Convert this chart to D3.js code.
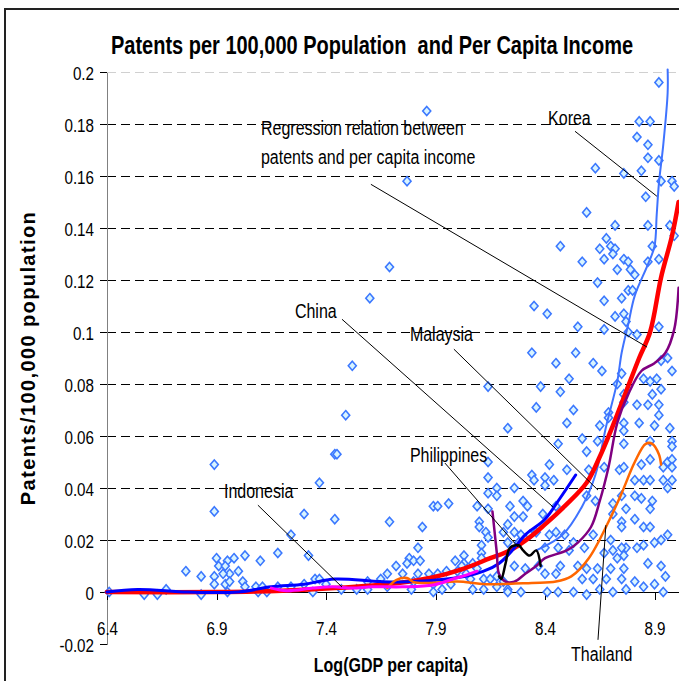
<!DOCTYPE html>
<html lang="en">
<head>
<meta charset="UTF-8">
<title>Patents per 100,000 Population and Per Capita Income</title>
<script src="https://cdn.jsdelivr.net/npm/d3@7"></script>
<style>
  body { margin: 0; background: #fff; }
  svg { display: block; font-family: "Liberation Sans", Arial, sans-serif; }
  .grid line { stroke-dasharray: 9,5; shape-rendering: crispEdges; }
  .axis path, .axis line { shape-rendering: crispEdges; }
  .leader { stroke: #000; stroke-width: 1; }
  .note { font-size: 20px; fill: #000; }
  .series { fill: none; stroke-linejoin: round; stroke-linecap: round; }
</style>
</head>
<body>
<svg id="chart" width="679" height="681"></svg>
<script>
// axis ticks
const yTicks = [-0.02, 0, 0.02, 0.04, 0.06, 0.08, 0.1, 0.12, 0.14, 0.16, 0.18, 0.2];
const xTicks = [6.4, 6.9, 7.4, 7.9, 8.4, 8.9];

// country observations: [log GDP per capita, patents per 100,000]
const patentPoints = [
  [6.89,0.049],[6.89,0.031],[7.37,0.042],[7.30,0.030],[7.44,0.053],[7.44,0.028],[7.24,0.022],[7.18,0.015],
  [7.32,0.014],[7.03,0.014],[7.10,0.012],[6.98,0.013],[6.90,0.013],[6.76,0.008],[6.83,0.006],[6.91,0.010],
  [6.95,0.012],[6.94,0.010],[6.96,0.007],[7.00,0.008],[6.93,0.007],[6.89,0.006],[6.89,0.003],[6.94,0.003],
  [6.96,0.004],[7.02,0.004],[7.03,0.002],[7.08,0.002],[7.11,0.002],[7.18,0.002],[7.24,0.002],[7.30,0.003],
  [7.35,0.005],[7.37,0.005],[7.40,0.003],[6.41,0.000],[6.57,-0.001],[6.63,-0.001],[6.67,0.001],[6.83,-0.001],
  [6.95,0.000],[7.09,0.000],[7.13,0.000],[7.34,0.000],
  [8.14,0.079],[7.49,0.068],[8.23,0.063],[7.45,0.053],[8.14,0.050],[8.14,0.044],[8.14,0.038],[8.18,0.040],
  [8.18,0.037],[7.89,0.033],[7.91,0.033],[7.96,0.034],[8.09,0.033],[8.14,0.032],[7.69,0.027],[7.84,0.025],
  [8.10,0.027],[8.10,0.025],[8.13,0.023],[8.14,0.021],[8.21,0.023],[8.23,0.019],[7.82,0.017],[8.11,0.018],
  [8.11,0.015],[8.11,0.013],[7.78,0.013],[7.77,0.011],[7.80,0.012],[7.83,0.012],[7.72,0.010],[7.99,0.012],
  [8.03,0.014],[8.03,0.011],[8.07,0.011],[8.09,0.009],[7.68,0.007],[7.75,0.007],[7.82,0.007],[7.87,0.007],
  [7.91,0.007],[7.95,0.008],[8.00,0.008],[8.02,0.010],[8.04,0.007],[7.59,0.004],[7.65,0.005],[7.80,0.004],
  [7.89,0.003],[7.97,0.003],[8.06,0.005],[8.12,0.005],[8.15,0.005],[8.18,0.006],[8.21,0.004],[7.47,0.001],
  [7.54,0.001],[7.59,0.001],[7.68,0.002],[7.79,0.001],[7.89,0.000],[7.93,0.001],[8.07,0.001],[8.12,0.001],
  [8.18,0.002],[8.23,0.001],
  [8.34,0.092],[8.54,0.092],[8.45,0.088],[8.62,0.088],[8.66,0.085],[8.75,0.084],[8.51,0.082],[8.38,0.079],
  [8.47,0.077],[8.85,0.082],[8.88,0.081],[8.91,0.082],[8.93,0.078],[8.89,0.076],[8.87,0.072],[8.82,0.072],
  [8.76,0.076],[8.76,0.073],[8.73,0.080],[8.92,0.072],[8.92,0.068],[8.90,0.064],[8.97,0.063],[8.98,0.085],
  [8.96,0.090],[8.93,0.089],[8.36,0.071],[8.53,0.070],[8.50,0.065],[8.69,0.069],[8.69,0.067],[8.65,0.064],
  [8.76,0.065],[8.76,0.062],[8.83,0.065],[8.57,0.059],[8.64,0.058],[8.76,0.057],[8.88,0.058],[8.98,0.058],
  [8.98,0.056],[8.46,0.057],[8.59,0.054],[8.42,0.049],[8.50,0.047],[8.60,0.047],[8.67,0.048],[8.74,0.047],
  [8.76,0.048],[8.84,0.049],[8.88,0.051],[8.94,0.048],[8.96,0.050],[8.98,0.051],[8.98,0.048],[8.94,0.043],
  [8.98,0.043],[8.96,0.040],[8.85,0.043],[8.88,0.043],[8.81,0.043],[8.40,0.044],[8.44,0.043],[8.34,0.045],
  [8.35,0.043],[8.40,0.041],[8.26,0.040],[8.24,0.033],[8.30,0.035],[8.32,0.033],[8.26,0.029],[8.30,0.029],
  [8.23,0.026],[8.39,0.030],[8.45,0.033],[8.59,0.037],[8.63,0.035],[8.71,0.034],[8.75,0.037],[8.81,0.037],
  [8.84,0.036],[8.88,0.032],[8.89,0.035],[8.77,0.032],[8.71,0.030],[8.75,0.027],[8.75,0.025],[8.81,0.028],
  [8.85,0.025],[8.88,0.025],[8.96,0.022],[8.93,0.020],[8.90,0.019],[8.85,0.018],[8.82,0.017],[8.77,0.017],
  [8.75,0.017],[8.71,0.016],[8.70,0.020],[8.62,0.022],[8.49,0.022],[8.45,0.023],[8.42,0.022],[8.36,0.023],
  [8.33,0.022],[8.29,0.022],[8.26,0.023],[8.28,0.019],[8.40,0.017],[8.46,0.017],[8.51,0.016],[8.58,0.017],
  [8.53,0.019],[8.67,0.015],[8.73,0.013],[8.76,0.014],[8.87,0.011],[8.93,0.010],[8.47,0.010],[8.55,0.010],
  [8.59,0.009],[8.64,0.009],[8.70,0.009],[8.76,0.009],[8.40,0.007],[8.45,0.007],[8.37,0.010],[8.31,0.009],
  [8.26,0.010],[8.57,0.005],[8.62,0.005],[8.68,0.005],[8.75,0.005],[8.81,0.004],[8.90,0.003],[8.95,0.006],
  [8.94,0.000],[8.85,0.002],[8.77,0.001],[8.71,0.000],[8.65,0.001],[8.59,-0.001],[8.53,0.000],[8.46,0.000],
  [8.41,0.000],[8.29,0.000],[8.23,0.000],
  [8.92,0.196],[7.86,0.185],[8.83,0.181],[8.88,0.181],[8.82,0.175],[8.87,0.172],[8.87,0.167],[8.92,0.166],
  [8.63,0.163],[8.76,0.161],[8.84,0.162],[8.93,0.158],[8.98,0.158],[8.99,0.156],[7.77,0.158],[8.86,0.152],
  [8.59,0.146],[8.72,0.141],[8.87,0.141],[8.97,0.141],[8.99,0.137],[8.68,0.136],[8.70,0.133],[8.72,0.132],
  [8.65,0.132],[8.71,0.130],[8.47,0.133],[8.67,0.128],[8.76,0.128],[8.78,0.127],[8.89,0.133],[8.87,0.127],
  [8.92,0.128],[8.57,0.127],[8.73,0.124],[8.79,0.124],[8.81,0.122],[7.69,0.125],[8.64,0.119],[8.78,0.116],
  [8.80,0.116],[8.75,0.113],[8.67,0.112],[7.60,0.113],[8.35,0.110],[8.41,0.107],[8.72,0.106],[8.76,0.107],
  [8.77,0.104],[8.55,0.102],[8.67,0.101],[8.78,0.100],[8.82,0.099],[8.92,0.102],[7.52,0.087]
];

// fitted and country paths
const regression = [[6.40,0.000],[6.90,0.000],[7.20,0.0005],[7.44,0.0015],[7.73,0.0035],[7.88,0.0055],
  [8.03,0.009],[8.15,0.013],[8.24,0.016],[8.33,0.021],[8.40,0.026],[8.49,0.033],[8.59,0.042],[8.65,0.052],
  [8.71,0.064],[8.77,0.077],[8.83,0.090],[8.88,0.100],[8.93,0.121],[8.98,0.137],[9.01,0.150]];
const korea = [[8.36,0.016],[8.48,0.022],[8.57,0.033],[8.63,0.045],[8.68,0.064],[8.73,0.081],[8.75,0.092],
  [8.78,0.103],[8.81,0.114],[8.87,0.126],[8.90,0.133],[8.91,0.145],[8.92,0.157],[8.94,0.172],[8.96,0.192],[8.96,0.201]];
const china = [[6.40,0.000],[6.54,0.001],[6.77,0.000],[7.00,0.000],[7.15,0.002],[7.30,0.003],[7.44,0.005],
  [7.65,0.004],[7.80,0.004],[8.03,0.006],[8.12,0.008],[8.19,0.011],[8.24,0.015],[8.31,0.022],[8.40,0.028],
  [8.46,0.035],[8.54,0.045]];
const malaysia = [[8.16,0.031],[8.18,0.015],[8.19,0.007],[8.22,0.004],[8.26,0.004],[8.31,0.007],[8.36,0.010],
  [8.40,0.013],[8.50,0.016],[8.55,0.019],[8.61,0.025],[8.65,0.035],[8.69,0.048],[8.73,0.065],[8.78,0.076],
  [8.84,0.085],[8.90,0.088],[8.95,0.092],[8.99,0.101],[9.01,0.117]];
const thailand = [[7.68,0.0015],[7.72,0.0046],[7.77,0.0054],[7.80,0.0038],[7.87,0.0035],[8.00,0.004],
  [8.13,0.003],[8.34,0.0035],[8.45,0.004],[8.52,0.006],[8.60,0.013],[8.69,0.027],[8.75,0.038],[8.81,0.050],
  [8.86,0.057],[8.89,0.057],[8.92,0.053],[8.93,0.049]];
const indonesia = [[7.15,0.0015],[7.22,0.0005],[7.34,0.0015],[7.43,0.002],[7.52,0.0015],[7.61,0.002],
  [7.75,0.002],[7.89,0.0027],[7.98,0.005],[8.04,0.0065],[8.09,0.008]];
const philippines = [[8.19,0.006],[8.20,0.005],[8.22,0.011],[8.24,0.017],[8.28,0.018],[8.30,0.016],
  [8.33,0.014],[8.36,0.016],[8.38,0.010]];

const svg = d3.select('#chart');
const width = 679, height = 681;

const x = d3.scaleLinear().domain([6.4, 9.4]).range([107, 764]);
const y = d3.scaleLinear().domain([-0.02, 0.2]).range([644, 72]);

// outer frame
svg.append('rect')
  .attr('x', 5).attr('y', 9).attr('width', 720).attr('height', 720)
  .attr('fill', '#fff').attr('stroke', '#222').attr('stroke-width', 2);

// dashed gridlines
svg.append('g').attr('class', 'grid')
  .selectAll('line')
  .data(yTicks.filter(v => v > 0))
  .join('line')
  .attr('x1', x(6.4)).attr('x2', width)
  .attr('y1', d => y(d)).attr('y2', d => y(d))
  .attr('stroke', d => d === 0.2 ? '#d0d0d0' : '#000');

// y axis
const yAxis = svg.append('g').attr('class', 'axis')
  .attr('transform', `translate(${x(6.4)},0)`)
  .call(d3.axisLeft(y).tickValues(yTicks).tickSize(7).tickSizeOuter(0)
    .tickFormat(d => String(+d.toFixed(2))));
yAxis.select('.domain').attr('stroke', '#808080');
yAxis.selectAll('.tick line').attr('stroke', '#000');
yAxis.selectAll('text')
  .attr('x', 0).attr('dy', null)
  .attr('transform', 'translate(-13,7) scale(0.8,1)')
  .attr('fill', '#000')
  .style('font-size', '19px');

// x axis along zero
const xAxis = svg.append('g').attr('class', 'axis')
  .attr('transform', `translate(0,${y(0)})`)
  .call(d3.axisBottom(x).tickValues(xTicks).tickSize(8).tickSizeOuter(0)
    .tickFormat(d3.format('.1f')));
xAxis.select('.domain').attr('stroke', '#000');
xAxis.selectAll('.tick line').attr('stroke', '#000');
xAxis.selectAll('text')
  .attr('y', 0).attr('dy', null)
  .attr('transform', 'translate(0,43) scale(0.8,1)')
  .attr('fill', '#000')
  .style('font-size', '19px');

// scatter
svg.append('g')
  .selectAll('path')
  .data(patentPoints)
  .join('path')
  .attr('d', 'M0,-4.6L4,0L0,4.6L-4,0Z')
  .attr('transform', d => `translate(${x(d[0])},${y(d[1])})`)
  .attr('fill', '#d8f4ff')
  .attr('stroke', '#3b78ff')
  .attr('stroke-width', 1.6);

// lines
const line = d3.line().x(d => x(d[0])).y(d => y(d[1])).curve(d3.curveCatmullRom.alpha(0.5));
const series = [
  { data: korea, color: '#3f73ff', w: 2 },
  { data: regression, color: '#ff0000', w: 4.5 },
  { data: china, color: '#0000ff', w: 3 },
  { data: malaysia, color: '#800080', w: 2.5 },
  { data: thailand, color: '#ff6600', w: 2.5 },
  { data: indonesia, color: '#ff00ff', w: 3 },
  { data: philippines, color: '#000000', w: 2.5 }
];
svg.append('g')
  .selectAll('path')
  .data(series)
  .join('path')
  .attr('class', 'series')
  .attr('d', d => line(d.data))
  .attr('stroke', d => d.color)
  .attr('stroke-width', d => d.w);

// annotations (data coordinates)
const leaders = [
  [[8.537, 0.1772], [8.911, 0.1522]],
  [[7.605, 0.1568], [8.866, 0.0942]],
  [[7.473, 0.1049], [8.437, 0.0327]],
  [[7.984, 0.0934], [8.642, 0.0392]],
  [[7.943, 0.0496], [8.277, 0.0173]],
  [[7.089, 0.0334], [7.473, 0.0019]],
  [[8.678, 0.0257], [8.642, -0.0184]]
];
svg.append('g')
  .selectAll('line')
  .data(leaders)
  .join('line')
  .attr('class', 'leader')
  .attr('x1', d => x(d[0][0])).attr('y1', d => y(d[0][1]))
  .attr('x2', d => x(d[1][0])).attr('y2', d => y(d[1][1]));

const notes = [
  { t: 'Regression relation between', x: 7.103, y: 0.1756 },
  { t: 'patents and per capita income', x: 7.103, y: 0.1645 },
  { t: 'Korea', x: 8.414, y: 0.1795 },
  { t: 'China', x: 7.258, y: 0.1053 },
  { t: 'Malaysia', x: 7.783, y: 0.0965 },
  { t: 'Philippines', x: 7.783, y: 0.050 },
  { t: 'Indonesia', x: 6.934, y: 0.0361 },
  { t: 'Thailand', x: 8.519, y: -0.0265 }
];
svg.append('g')
  .selectAll('text')
  .data(notes)
  .join('text')
  .attr('class', 'note')
  .attr('transform', d => `translate(${x(d.x)},${y(d.y)}) scale(0.8,1)`)
  .text(d => d.t);

// titles
svg.append('text')
  .attr('transform', 'translate(372,54) scale(0.8,1)')
  .attr('text-anchor', 'middle')
  .style('font-size', '25px').style('font-weight', 'bold')
  .text('Patents per 100,000 Population\u00a0 and Per Capita Income');

svg.append('text')
  .attr('transform', 'translate(391,672) scale(0.8,1)')
  .attr('text-anchor', 'middle')
  .style('font-size', '20px').style('font-weight', 'bold')
  .text('Log(GDP per capita)');

svg.append('text')
  .attr('transform', 'translate(35,358) rotate(-90)')
  .attr('text-anchor', 'middle')
  .style('font-size', '20px').style('font-weight', 'bold')
  .style('letter-spacing', '1.4px')
  .text('Patents/100,000 population');
</script>
</body>
</html>
